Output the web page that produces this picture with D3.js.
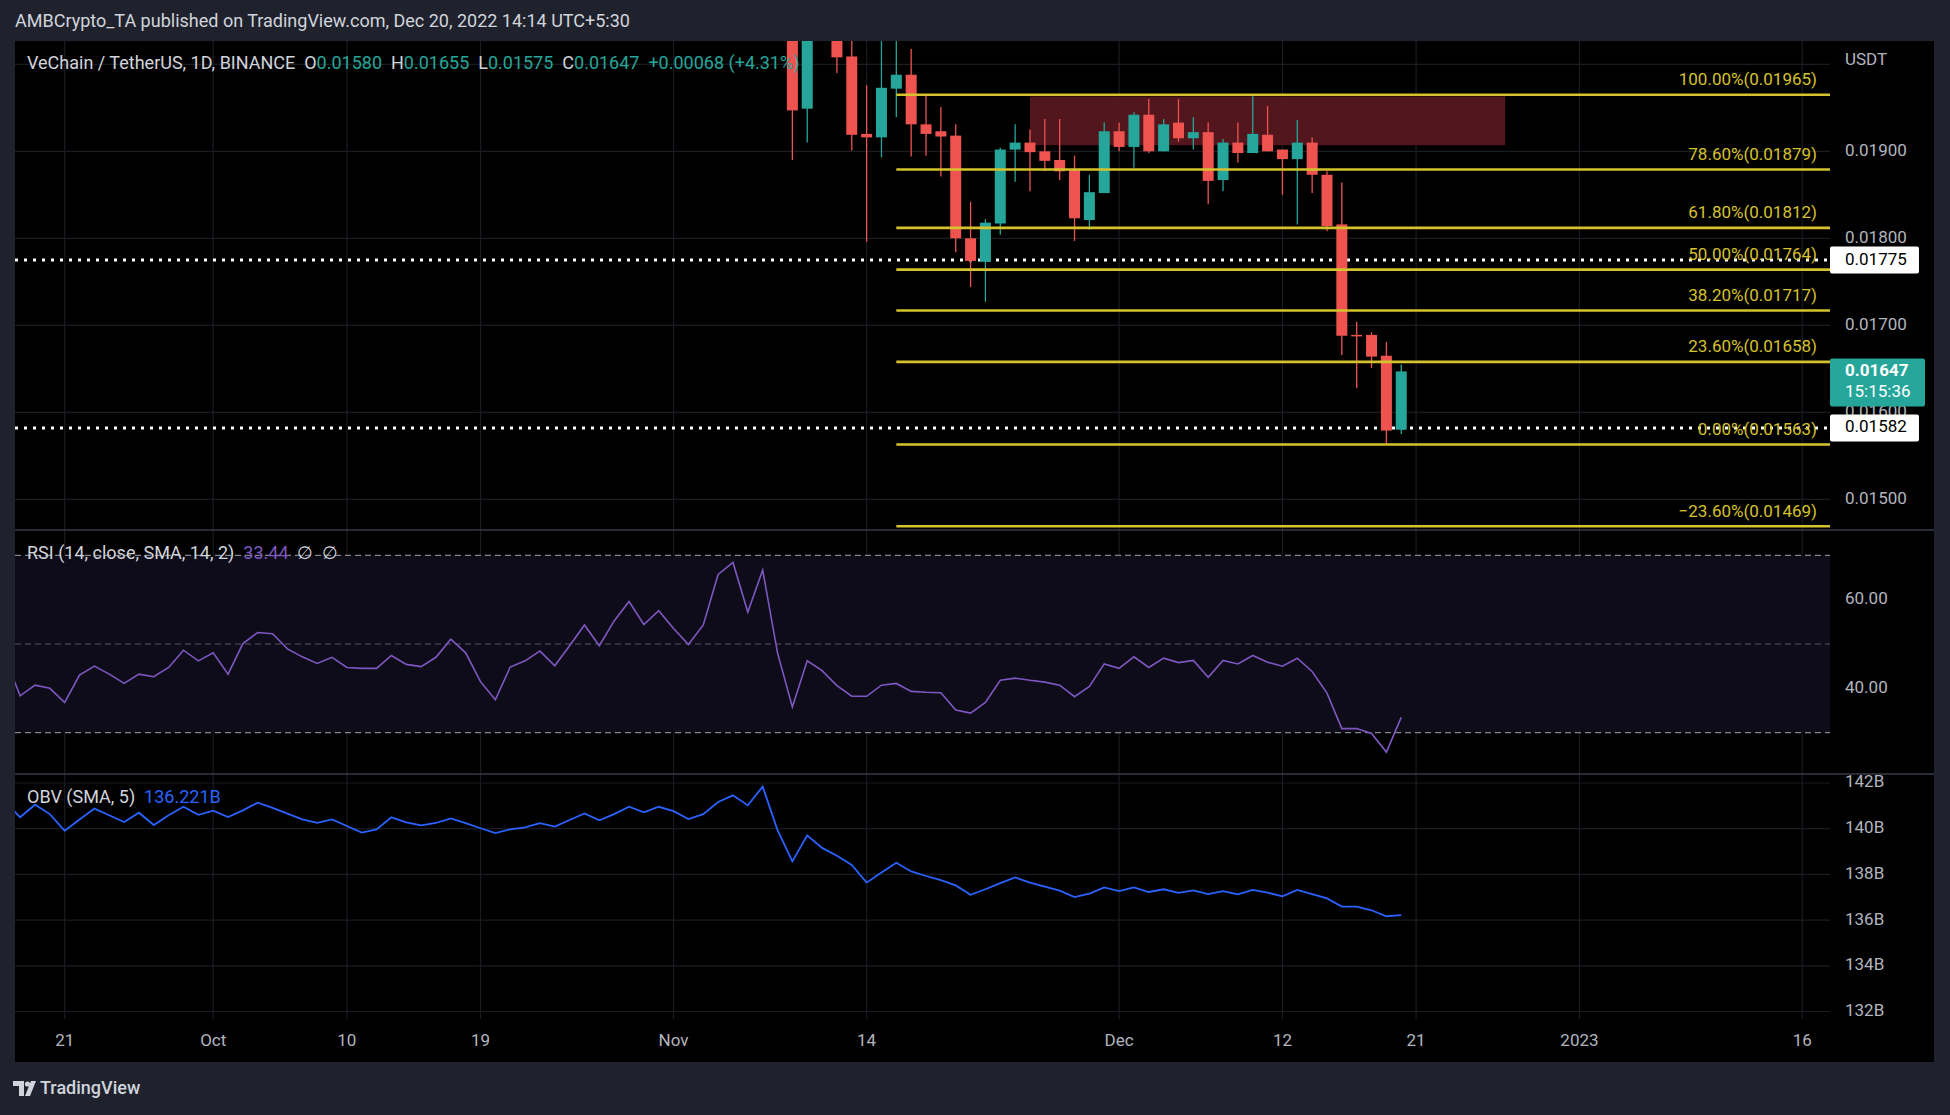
<!DOCTYPE html>
<html>
<head>
<meta charset="utf-8">
<script src="https://d3js.org/d3.v7.min.js"></script>
<style>
  body { margin: 0; background: #1f222c; }
  text { font-family: Roboto, "Noto Sans", sans-serif; }
</style>
</head>
<body>
<svg id="chart" width="1950" height="1115"></svg>
<script>
// ---- data ----
const candleStart = "2022-11-09";
const openP  = [0.02090, 0.01949, 0.02070, 0.02060, 0.02009, 0.01920, 0.01916, 0.01972, 0.01988, 0.01931, 0.01923, 0.01918, 0.01800, 0.01773,
                0.01817, 0.01902, 0.01910, 0.01900, 0.01890, 0.01879, 0.01821, 0.01852, 0.01923, 0.01905, 0.01942, 0.01900, 0.01933, 0.01915,
                0.01922, 0.01867, 0.01910, 0.01898, 0.01919, 0.01902, 0.01891, 0.01910, 0.01873, 0.01816, 0.01689, 0.01689, 0.01665, 0.01580];
const highP  = [0.02120, 0.02140, 0.02150, 0.02080, 0.02040, 0.01976, 0.02035, 0.02030, 0.02018, 0.01966, 0.01951, 0.01931, 0.01842, 0.01822,
                0.01904, 0.01931, 0.01925, 0.01937, 0.01937, 0.01895, 0.01873, 0.01933, 0.01933, 0.01945, 0.01960, 0.01937, 0.01960, 0.01939,
                0.01933, 0.01914, 0.01933, 0.01965, 0.01952, 0.01902, 0.01936, 0.01916, 0.01877, 0.01864, 0.01704, 0.01692, 0.01681, 0.01655];
const lowP   = [0.01890, 0.01910, 0.02040, 0.01990, 0.01901, 0.01796, 0.01893, 0.01939, 0.01894, 0.01895, 0.01871, 0.01784, 0.01744, 0.01727,
                0.01804, 0.01865, 0.01854, 0.01877, 0.01867, 0.01797, 0.01810, 0.01852, 0.01900, 0.01881, 0.01898, 0.01900, 0.01911, 0.01902,
                0.01839, 0.01854, 0.01887, 0.01898, 0.01900, 0.01850, 0.01816, 0.01852, 0.01808, 0.01666, 0.01628, 0.01651, 0.01563, 0.01575];
const closeP = [0.01947, 0.02070, 0.02060, 0.02008, 0.01919, 0.01916, 0.01973, 0.01988, 0.01931, 0.01920, 0.01917, 0.01800, 0.01774, 0.01818,
                0.01902, 0.01910, 0.01899, 0.01889, 0.01877, 0.01823, 0.01853, 0.01923, 0.01905, 0.01942, 0.01900, 0.01931, 0.01915, 0.01922,
                0.01866, 0.01910, 0.01898, 0.01920, 0.01900, 0.01891, 0.01910, 0.01873, 0.01814, 0.01688, 0.01688, 0.01664, 0.01579, 0.01647];

const indStart = "2022-09-17";
const rsiValues = [46.9, 38.3, 40.7, 40.0, 36.8, 43.0, 45.0, 43.2, 41.1, 43.2, 42.6, 44.7, 48.6, 46.2,
  48.0, 43.2, 50.1, 52.6, 52.3, 48.9, 47.1, 45.6, 47.0, 44.7, 44.5, 44.5, 47.4, 45.4, 44.9, 47.0, 51.1, 48.0, 41.5, 37.4,
  44.8, 46.2, 48.4, 45.1, 49.6, 54.3, 49.6, 55.2, 59.6, 54.4, 57.5,
  53.5, 49.9, 54.3, 65.7, 68.4, 57.2, 66.7, 48.0, 35.8, 46.2, 44.0, 40.6, 38.2, 38.2, 40.7, 41.1, 39.3, 39.1, 39.0, 35.1,
  34.4, 36.8, 41.8, 42.3, 41.8, 41.4, 40.7, 38.1, 40.4, 45.5,
  44.5, 47.1, 44.7, 46.8, 45.8, 46.3, 42.5, 46.3, 45.5, 47.4, 45.9, 45.0, 46.8, 43.8, 38.9, 30.9, 30.9, 29.8, 25.6, 33.44];
const obvValues = [141.18, 140.50, 141.05, 140.64, 139.91, 140.40, 140.88, 140.59, 140.29, 140.70, 140.16, 140.59, 140.96, 140.61,
  140.79, 140.51, 140.80, 141.14, 140.91, 140.66, 140.41, 140.26, 140.41, 140.12, 139.83, 139.97, 140.50, 140.28, 140.15, 140.25,
  140.45, 140.24, 140.02, 139.81, 139.97, 140.06, 140.24, 140.09, 140.38, 140.67, 140.37, 140.64, 140.96, 140.72, 140.96,
  140.77, 140.42, 140.64, 141.17, 141.46, 141.02, 141.84, 139.94, 138.57, 139.71, 139.16, 138.82, 138.41, 137.64, 138.08,
  138.51, 138.13, 137.93, 137.75, 137.52, 137.11, 137.35, 137.62, 137.87, 137.64, 137.46, 137.29, 137.01, 137.16, 137.43,
  137.27, 137.43, 137.23, 137.35, 137.19, 137.30, 137.14, 137.27, 137.13, 137.32, 137.20, 137.04, 137.32, 137.14, 136.95,
  136.59, 136.59, 136.43, 136.17, 136.22];

const fibNames  = ["100.00%", "78.60%", "61.80%", "50.00%", "38.20%", "23.60%", "0.00%", "\u221223.60%"];
const fibPrices = [0.01965, 0.01879, 0.01812, 0.01764, 0.01717, 0.01658, 0.01563, 0.01469];
const fibStart = "2022-11-16";
const zoneDates = ["2022-11-25", "2022-12-27"];
const zonePrices = [0.01963, 0.01907];
const markedPrices = [0.01775, 0.01582];
const lastPrice = 0.01647;
const countdown = "15:15:36";

const priceTicks = [0.020, 0.019, 0.018, 0.017, 0.016, 0.015];
const rsiTicks = [60, 40];
const rsiBands = [70, 50, 30];
const obvTicks = [142, 140, 138, 136, 134, 132];
const timeTicks = ["2022-09-21", "2022-10-01", "2022-10-10", "2022-10-19", "2022-11-01", "2022-11-14",
                   "2022-12-01", "2022-12-12", "2022-12-21", "2023-01-01", "2023-01-16"];
const timeLabels = ["21", "Oct", "10", "19", "Nov", "14", "Dec", "12", "21", "2023", "16"];

// ---- layout ----
const W = 1950, H = 1115;
const left = 15, plotRight = 1830, frameRight = 1934;
const priceTop = 41, priceBottom = 530, rsiBottom = 774, obvBottom = 1019, frameBottom = 1062;
const axisX = 1845;
const upColor = "#26a69a", downColor = "#ef5350", fibColor = "#d6c22c";
const gridColor = "#1a1c22", axisText = "#b2b5be";

const parse = d3.utcParse("%Y-%m-%d");
const svg = d3.select("#chart");

const x = d3.scaleUtc()
  .domain([parse("2022-09-21"), parse("2023-01-16")])
  .range([64.7, 1802.2]);
const y = d3.scaleLinear().domain([0.019, 0.015]).range([151.3, 499.3]);
const yRsi = d3.scaleLinear().domain([60, 40]).range([599.7, 688.3]);
const yObv = d3.scaleLinear().domain([142, 132]).range([783, 1011.5]);

const candles = openP.map((o, i) => ({
  date: d3.utcDay.offset(parse(candleStart), i), o, h: highP[i], l: lowP[i], c: closeP[i]
}));
const rsiData = rsiValues.map((v, i) => ({ date: d3.utcDay.offset(parse(indStart), i), v }));
const obvData = obvValues.map((v, i) => ({ date: d3.utcDay.offset(parse(indStart), i), v }));

// background
svg.append("rect").attr("width", W).attr("height", H).attr("fill", "#1f222c");
svg.append("rect").attr("x", left).attr("y", priceTop)
  .attr("width", frameRight - left).attr("height", frameBottom - priceTop).attr("fill", "#000");

const defs = svg.append("defs");
defs.append("clipPath").attr("id", "clipPrice").append("rect")
  .attr("x", left).attr("y", priceTop).attr("width", plotRight - left).attr("height", priceBottom - priceTop);
defs.append("clipPath").attr("id", "clipRsi").append("rect")
  .attr("x", left).attr("y", priceBottom).attr("width", plotRight - left).attr("height", rsiBottom - priceBottom);
defs.append("clipPath").attr("id", "clipObv").append("rect")
  .attr("x", left).attr("y", rsiBottom).attr("width", plotRight - left).attr("height", obvBottom - rsiBottom);

// vertical grid
svg.append("g").selectAll("line").data(timeTicks).enter().append("line")
  .attr("x1", d => x(parse(d))).attr("x2", d => x(parse(d)))
  .attr("y1", priceTop).attr("y2", obvBottom)
  .attr("stroke", gridColor).attr("stroke-width", 1.2);

// horizontal grid
const hgrid = svg.append("g").attr("stroke", gridColor).attr("stroke-width", 1.2);
priceTicks.forEach(t => hgrid.append("line").attr("x1", left).attr("x2", plotRight).attr("y1", y(t)).attr("y2", y(t)));
rsiTicks.forEach(t => hgrid.append("line").attr("x1", left).attr("x2", plotRight).attr("y1", yRsi(t)).attr("y2", yRsi(t)));
obvTicks.forEach(t => hgrid.append("line").attr("x1", left).attr("x2", plotRight).attr("y1", yObv(t)).attr("y2", yObv(t)));

// ---- price pane ----
const pricePane = svg.append("g").attr("clip-path", "url(#clipPrice)");

// supply zone
pricePane.append("rect")
  .attr("x", x(parse(zoneDates[0]))).attr("y", y(zonePrices[0]))
  .attr("width", x(parse(zoneDates[1])) - x(parse(zoneDates[0])))
  .attr("height", y(zonePrices[1]) - y(zonePrices[0]))
  .attr("fill", "#53161c");

// dotted marked levels
pricePane.selectAll("line.mark").data(markedPrices).enter().append("line")
  .attr("class", "mark")
  .attr("x1", left).attr("x2", plotRight)
  .attr("y1", d => y(d)).attr("y2", d => y(d))
  .attr("stroke", "#fff").attr("stroke-width", 3).attr("stroke-dasharray", "3,6");

// fib lines
const fibG = svg.append("g");
fibG.selectAll("line").data(fibPrices).enter().append("line")
  .attr("x1", x(parse(fibStart))).attr("x2", plotRight)
  .attr("y1", d => y(d)).attr("y2", d => y(d))
  .attr("stroke", fibColor).attr("stroke-width", 2.6);

// candles
const bodyW = 11;
const cg = pricePane.selectAll("g.candle").data(candles).enter().append("g").attr("class", "candle");
cg.append("line")
  .attr("x1", d => x(d.date)).attr("x2", d => x(d.date))
  .attr("y1", d => y(d.h)).attr("y2", d => y(d.l))
  .attr("stroke", d => d.c >= d.o ? upColor : downColor).attr("stroke-width", 1.3);
cg.append("rect")
  .attr("x", d => x(d.date) - bodyW / 2).attr("width", bodyW)
  .attr("y", d => y(Math.max(d.o, d.c)))
  .attr("height", d => Math.max(1.5, Math.abs(y(d.o) - y(d.c))))
  .attr("fill", d => d.c >= d.o ? upColor : downColor);

// fib labels
fibG.selectAll("text").data(fibPrices).enter().append("text")
  .attr("x", 1817).attr("y", d => y(d) - 14)
  .attr("text-anchor", "end").attr("dominant-baseline", "middle")
  .attr("font-size", 17).attr("fill", fibColor)
  .text((d, i) => fibNames[i] + "(" + d.toFixed(5) + ")");

// ---- RSI pane ----
svg.append("rect").attr("x", left).attr("y", yRsi(70))
  .attr("width", plotRight - left).attr("height", yRsi(30) - yRsi(70))
  .attr("fill", "#0e0c18");
svg.append("g").selectAll("line").data(rsiBands).enter().append("line")
  .attr("x1", left).attr("x2", plotRight)
  .attr("y1", d => yRsi(d)).attr("y2", d => yRsi(d))
  .attr("stroke", d => d === 50 ? "#55576a" : "#83868f")
  .attr("stroke-width", 1.2).attr("stroke-dasharray", "6,4");
svg.append("g").attr("clip-path", "url(#clipRsi)").append("path")
  .datum(rsiData)
  .attr("d", d3.line().x(d => x(d.date)).y(d => yRsi(d.v)))
  .attr("fill", "none").attr("stroke", "#7e57c2").attr("stroke-width", 1.6);

// ---- OBV pane ----
svg.append("g").attr("clip-path", "url(#clipObv)").append("path")
  .datum(obvData)
  .attr("d", d3.line().x(d => x(d.date)).y(d => yObv(d.v)))
  .attr("fill", "none").attr("stroke", "#2962ff").attr("stroke-width", 1.8);

// pane separators
[priceBottom, rsiBottom].forEach(yy => svg.append("line")
  .attr("x1", left).attr("x2", frameRight).attr("y1", yy).attr("y2", yy)
  .attr("stroke", "#363a45").attr("stroke-width", 1.5));

// ---- axes text ----
const axisG = svg.append("g").attr("font-size", 17).attr("fill", axisText).attr("dominant-baseline", "middle");
axisG.append("text").attr("x", axisX).attr("y", 61).text("USDT");
priceTicks.filter(t => t < 0.0195).forEach(t => axisG.append("text").attr("x", axisX).attr("y", y(t)).text(t.toFixed(5)));
rsiTicks.forEach(t => axisG.append("text").attr("x", axisX).attr("y", yRsi(t)).text(t.toFixed(2)));
obvTicks.forEach(t => axisG.append("text").attr("x", axisX).attr("y", yObv(t)).text(t + "B"));
svg.append("g").attr("font-size", 17).attr("fill", axisText)
  .selectAll("text").data(timeTicks).enter().append("text")
  .attr("x", d => x(parse(d))).attr("y", 1042)
  .attr("text-anchor", "middle").attr("dominant-baseline", "middle")
  .text((d, i) => timeLabels[i]);

// price labels on axis
markedPrices.forEach(p => {
  svg.append("rect").attr("x", plotRight).attr("y", y(p) - 13.5).attr("width", 89).attr("height", 27)
    .attr("rx", 2).attr("fill", "#fff");
  svg.append("text").attr("x", axisX).attr("y", y(p)).attr("dominant-baseline", "middle")
    .attr("font-size", 17).attr("fill", "#000").text(p.toFixed(5));
});
svg.append("rect").attr("x", plotRight).attr("y", y(lastPrice) - 13).attr("width", 95).attr("height", 48)
  .attr("rx", 2).attr("fill", upColor);
svg.append("text").attr("x", axisX).attr("y", y(lastPrice)).attr("dominant-baseline", "middle")
  .attr("font-size", 17).attr("font-weight", "bold").attr("fill", "#fff").text(lastPrice.toFixed(5));
svg.append("text").attr("x", axisX).attr("y", y(lastPrice) + 21).attr("dominant-baseline", "middle")
  .attr("font-size", 17).attr("fill", "#fff").text(countdown);

// ---- legends ----
svg.append("text").attr("x", 15).attr("y", 22).attr("dominant-baseline", "middle")
  .attr("font-size", 18).attr("fill", "#d1d4dc")
  .text("AMBCrypto_TA published on TradingView.com, Dec 20, 2022 14:14 UTC+5:30");

const last = candles[candles.length - 1];
const lg = svg.append("text").attr("x", 27).attr("y", 64).attr("dominant-baseline", "middle")
  .attr("font-size", 18).attr("fill", "#d1d4dc").attr("xml:space", "preserve");
lg.append("tspan").text("VeChain / TetherUS, 1D, BINANCE  O");
lg.append("tspan").attr("fill", upColor).text(last.o.toFixed(5));
lg.append("tspan").text("  H");
lg.append("tspan").attr("fill", upColor).text(last.h.toFixed(5));
lg.append("tspan").text("  L");
lg.append("tspan").attr("fill", upColor).text(last.l.toFixed(5));
lg.append("tspan").text("  C");
lg.append("tspan").attr("fill", upColor).text(last.c.toFixed(5));
lg.append("tspan").attr("fill", upColor).text("  +0.00068 (+4.31%)");

const rl = svg.append("text").attr("x", 27).attr("y", 554).attr("dominant-baseline", "middle")
  .attr("font-size", 18).attr("fill", "#d1d4dc").attr("xml:space", "preserve");
rl.append("tspan").text("RSI (14, close, SMA, 14, 2)  ");
rl.append("tspan").attr("fill", "#7e57c2").text(rsiValues[rsiValues.length - 1].toFixed(2));
rl.append("tspan").text("  \u2205  \u2205");

const ol = svg.append("text").attr("x", 27).attr("y", 798).attr("dominant-baseline", "middle")
  .attr("font-size", 18).attr("fill", "#d1d4dc").attr("xml:space", "preserve");
ol.append("tspan").text("OBV (SMA, 5)  ");
ol.append("tspan").attr("fill", "#2962ff").text("136.221B");

// ---- TradingView footer ----
const logo = svg.append("g").attr("fill", "#d1d4dc");
logo.append("path").attr("d", "M13,1081 h11 v15 h-5 v-10 h-6 z");
logo.append("circle").attr("cx", 27.5).attr("cy", 1084).attr("r", 2.6);
logo.append("path").attr("d", "M31,1081 h5 l-6,15 h-5 z");
svg.append("text").attr("x", 40).attr("y", 1089).attr("dominant-baseline", "middle")
  .attr("font-size", 18).attr("font-weight", 500).attr("fill", "#d1d4dc").text("TradingView");
</script>
</body>
</html>
